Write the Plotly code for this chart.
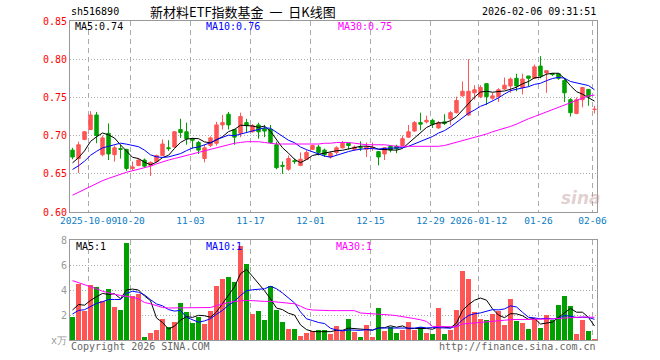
import plotly.graph_objects as go

# ---------------- data ----------------
tick_idx = [3, 10, 20, 30, 40, 50, 60, 68, 78, 87]
tick_text = ["2025-10-09", "10-20", "11-03", "11-17", "12-01", "12-15",
             "12-29", "2026-01-12", "01-26", "02-06"]

opens = [0.681, 0.670, 0.695, 0.708, 0.727, 0.675, 0.703, 0.675, 0.683, 0.682,
         0.657, 0.661, 0.668, 0.661, 0.666, 0.674, 0.684, 0.685, 0.708, 0.705,
         0.696, 0.691, 0.670, 0.687, 0.690, 0.714, 0.728, 0.708, 0.703, 0.717,
         0.705, 0.714, 0.709, 0.708, 0.688, 0.661, 0.656, 0.667, 0.661, 0.669,
         0.682, 0.685, 0.681, 0.672, 0.678, 0.684, 0.690, 0.682, 0.6845, 0.682,
         0.684, 0.679, 0.676, 0.686, 0.686, 0.687, 0.698, 0.706, 0.717, 0.718,
         0.720, 0.710, 0.718, 0.722, 0.730, 0.752, 0.727, 0.756, 0.751, 0.768,
         0.749, 0.751, 0.761, 0.765, 0.775, 0.763, 0.778, 0.775, 0.791, 0.782,
         0.781, 0.781, 0.772, 0.747, 0.729, 0.747, 0.7605, 0.734]
highs = [0.684, 0.692, 0.706, 0.732, 0.731, 0.700, 0.716, 0.687, 0.688, 0.682,
         0.666, 0.670, 0.670, 0.666, 0.675, 0.695, 0.694, 0.706, 0.722, 0.717,
         0.697, 0.693, 0.688, 0.699, 0.718, 0.727, 0.731, 0.709, 0.730, 0.722,
         0.715, 0.717, 0.714, 0.714, 0.692, 0.666, 0.674, 0.670, 0.678, 0.681,
         0.688, 0.688, 0.683, 0.679, 0.686, 0.693, 0.690, 0.687, 0.6925, 0.691,
         0.691, 0.680, 0.685, 0.687, 0.688, 0.700, 0.714, 0.719, 0.730, 0.726,
         0.722, 0.719, 0.728, 0.732, 0.751, 0.771, 0.800, 0.766, 0.766, 0.768,
         0.756, 0.762, 0.776, 0.776, 0.781, 0.781, 0.778, 0.793, 0.804, 0.785,
         0.782, 0.781, 0.775, 0.749, 0.750, 0.763, 0.7605, 0.739]
lows = [0.669, 0.651, 0.694, 0.707, 0.690, 0.673, 0.668, 0.666, 0.670, 0.654,
        0.654, 0.660, 0.658, 0.647, 0.665, 0.673, 0.680, 0.684, 0.697, 0.688,
        0.683, 0.676, 0.665, 0.685, 0.687, 0.708, 0.708, 0.688, 0.698, 0.704,
        0.704, 0.696, 0.698, 0.690, 0.656, 0.650, 0.654, 0.663, 0.660, 0.668,
        0.681, 0.674, 0.672, 0.670, 0.675, 0.683, 0.682, 0.680, 0.680, 0.672,
        0.680, 0.661, 0.668, 0.678, 0.677, 0.686, 0.697, 0.705, 0.707, 0.716,
        0.710, 0.709, 0.714, 0.714, 0.729, 0.751, 0.726, 0.747, 0.749, 0.740,
        0.747, 0.744, 0.760, 0.756, 0.758, 0.754, 0.764, 0.774, 0.775, 0.756,
        0.778, 0.773, 0.744, 0.725, 0.728, 0.737, 0.739, 0.729]
closes = [0.672, 0.688, 0.705, 0.727, 0.700, 0.697, 0.676, 0.684, 0.682, 0.657,
          0.659, 0.668, 0.660, 0.665, 0.674, 0.689, 0.683, 0.705, 0.704, 0.696,
          0.694, 0.681, 0.684, 0.697, 0.714, 0.717, 0.714, 0.698, 0.725, 0.713,
          0.713, 0.705, 0.706, 0.691, 0.658, 0.660, 0.670, 0.666, 0.669, 0.678,
          0.687, 0.678, 0.675, 0.677, 0.684, 0.690, 0.687, 0.685, 0.684, 0.685,
          0.6845, 0.672, 0.684, 0.681, 0.683, 0.696, 0.705, 0.717, 0.715, 0.720,
          0.715, 0.717, 0.716, 0.730, 0.746, 0.758, 0.758, 0.760, 0.763, 0.751,
          0.752, 0.760, 0.766, 0.774, 0.765, 0.774, 0.775, 0.790, 0.778, 0.785,
          0.780, 0.775, 0.756, 0.730, 0.747, 0.763, 0.751, 0.7345]
# closes before the first visible day (only feed the moving averages)
prior_closes = [0.640, 0.645, 0.650, 0.648, 0.652, 0.655, 0.660, 0.665, 0.670]

ma30_price = [0.622, 0.626, 0.630, 0.634, 0.638, 0.641, 0.644, 0.647, 0.650, 0.652,
              0.654, 0.656, 0.658, 0.660, 0.663, 0.666, 0.668, 0.670, 0.672, 0.674,
              0.676, 0.678, 0.680, 0.682, 0.684, 0.686, 0.688, 0.690, 0.691, 0.692,
              0.692, 0.692, 0.691, 0.690, 0.689, 0.689, 0.689, 0.689, 0.689, 0.689,
              0.689, 0.689, 0.690, 0.690, 0.691, 0.691, 0.691, 0.690, 0.689, 0.688,
              0.688, 0.688, 0.688, 0.687, 0.686, 0.686, 0.686, 0.686, 0.686, 0.686,
              0.686, 0.686, 0.687, 0.689, 0.692, 0.694, 0.696, 0.698, 0.700, 0.702,
              0.705, 0.707, 0.709, 0.712, 0.715, 0.719, 0.722, 0.725, 0.728, 0.731,
              0.734, 0.737, 0.740, 0.744, 0.747, 0.750, 0.752, 0.753]

volumes = [1.84, 4.48, 2.35, 4.40, 4.24, 3.15, 4.08, 2.64, 2.40, 7.76,
           3.49, 3.70, 0.24, 0.56, 0.83, 1.68, 1.04, 1.44, 2.96, 2.24,
           1.36, 1.87, 1.28, 2.35, 4.35, 4.88, 5.04, 4.67, 7.55, 6.10,
           2.08, 2.35, 1.63, 4.29, 2.43, 1.44, 0.91, 0.91, 0.35, 0.56,
           0.69, 0.80, 0.80, 0.50, 1.09, 0.69, 1.68, 0.64, 0.24, 1.17,
           0.24, 2.56, 0.72, 1.01, 0.56, 0.80, 1.44, 0.80, 1.01, 0.56,
           0.48, 2.56, 0.48, 0.80, 2.43, 5.55, 4.88, 2.24, 1.68, 1.60,
           2.08, 2.35, 1.23, 3.28, 1.52, 1.33, 0.88, 1.68, 0.99, 2.00,
           1.60, 2.80, 3.52, 2.72, 0.48, 1.60, 0.72, 0.08]
prior_volumes = [1.6, 1.8, 1.7, 1.9, 1.8, 2.3, 2.6, 2.5, 2.76]

ma30_volume = [4.75, 4.60, 4.45, 4.30, 4.10, 3.90, 3.75, 3.65, 3.57, 3.50,
               3.41, 3.30, 3.00, 2.90, 2.75, 2.60, 2.56, 2.56, 2.56, 2.56,
               2.56, 2.56, 2.56, 2.60, 2.75, 2.90, 3.00, 3.09, 3.15, 3.17,
               3.15, 3.09, 3.09, 3.09, 3.05, 3.00, 2.96, 2.90, 2.70, 2.48,
               2.40, 2.37, 2.35, 2.35, 2.35, 2.35, 2.35, 2.35, 2.16, 2.14,
               2.12, 2.10, 2.08, 2.00, 1.95, 1.89, 1.80, 1.71, 1.62, 1.49,
               1.09, 1.09, 1.09, 1.09, 1.05, 1.28, 1.32, 1.36, 1.38, 1.40,
               1.44, 1.50, 1.58, 1.63, 1.63, 1.63, 1.63, 1.65, 1.66, 1.68,
               1.70, 1.74, 1.76, 1.80, 1.82, 1.84, 1.83, 1.81]

# ---------------- helpers ----------------
def sma(vals, prior, n):
    seq = prior + vals
    off = len(prior)
    return [sum(seq[off + k - n + 1: off + k + 1]) / n for k in range(len(vals))]

idx = list(range(len(closes)))
ma5_p = sma(closes, prior_closes, 5)
ma10_p = sma(closes, prior_closes, 10)
ma5_v = sma(volumes, prior_volumes, 5)
ma10_v = sma(volumes, prior_volumes, 10)

RED = "#ff5555"
GREEN = "#00a000"
GRID = "#aaaaaa"
FRAME = "#999999"
MONO = "DejaVu Sans Mono"

W, H = 660, 360
PL, PR, PT, PB = 70, 597, 21, 340


def px(x):
    return (x - PL) / (PR - PL)


def py(y):
    return (PB - y) / (PB - PT)


fig = go.Figure()

fig.add_trace(go.Candlestick(
    x=idx, open=opens, high=highs, low=lows, close=closes,
    increasing=dict(line=dict(color=RED, width=1), fillcolor=RED),
    decreasing=dict(line=dict(color=GREEN, width=1), fillcolor=GREEN),
    whiskerwidth=0, xaxis="x", yaxis="y", hoverinfo="skip", showlegend=False))

for ys, col in [(ma5_p, "#000000"), (ma10_p, "#0000ff"), (ma30_price, "#ff00ff")]:
    fig.add_trace(go.Scatter(x=idx, y=ys, mode="lines", line=dict(color=col, width=1),
                             xaxis="x", yaxis="y", hoverinfo="skip", showlegend=False))

vol_colors = [RED if c >= o else GREEN for o, c in zip(opens, closes)]
fig.add_trace(go.Bar(x=idx, y=volumes, width=0.82, marker=dict(color=vol_colors, line=dict(width=0)),
                     xaxis="x2", yaxis="y2", hoverinfo="skip", showlegend=False))
for ys, col in [(ma5_v, "#000000"), (ma10_v, "#0000ff"), (ma30_volume, "#ff00ff")]:
    fig.add_trace(go.Scatter(x=idx, y=ys, mode="lines", line=dict(color=col, width=1),
                             xaxis="x2", yaxis="y2", hoverinfo="skip", showlegend=False))

grid_x = [t - 0.33 for t in tick_idx]
xr = [-0.42, 87.42]

main_bottom = py(212)
vol_top = py(240)

common = dict(showline=True, mirror=True, linecolor=FRAME, linewidth=1, ticks="",
              zeroline=False, fixedrange=True, automargin=False, showgrid=True,
              gridcolor=GRID, gridwidth=1)

fig.update_layout(
    width=W, height=H,
    margin=dict(l=PL, r=W - PR, t=PT, b=H - PB, pad=0, autoexpand=False),
    paper_bgcolor="white", plot_bgcolor="white",
    font=dict(family=MONO, size=10, color="#000"),
    boxgap=0.18,
    bargap=0,
    showlegend=False,
    xaxis=dict(domain=[0, 1], anchor="y", range=xr, tickmode="array", tickvals=grid_x,
               ticktext=tick_text, tickangle=0,
               tickfont=dict(color="#0a7cc4", size=9.5, family=MONO),
               griddash="5px,4px", rangeslider=dict(visible=False), **common),
    yaxis=dict(domain=[main_bottom, 1], anchor="x", range=[0.60, 0.85], tickmode="array",
               tickvals=[0.60, 0.65, 0.70, 0.75, 0.80, 0.85],
               ticktext=["0.60", "0.65", "0.70", "0.75", "0.80", "0.85"],
               tickfont=dict(color="#ff0000", size=10, family=MONO),
               griddash="1px,2px", **common),
    xaxis2=dict(domain=[0, 1], anchor="y2", range=xr, matches="x", tickmode="array",
                tickvals=grid_x, showticklabels=False, griddash="5px,4px", **common),
    yaxis2=dict(domain=[0, vol_top], anchor="x2", range=[0, 8], tickmode="array",
                tickvals=[0, 2, 4, 6, 8], ticktext=["x万", "2", "4", "6", "8"],
                tickfont=dict(color="#999999", size=10, family=MONO),
                griddash="1px,2px", **common),
)


def note(text, x, y, anchor="left", color="#000", size=10, family=MONO, **kw):
    fig.add_annotation(text=text, x=px(x), y=py(y), xref="paper", yref="paper",
                       xanchor=anchor, yanchor="middle", showarrow=False,
                       font=dict(color=color, size=size, family=family), **kw)


note("sh516890", 69, 12)
note("新材料ETF指数基金\u00a0\u00a0一\u00a0\u00a0日K线图", 243, 12, anchor="center", size=13,
     family="Noto Sans CJK SC")
note("2026-02-06 09:31:51", 598, 12, anchor="right")

note("MA5:0.74", 73, 27)
note("MA10:0.76", 204, 27, color="#0000ff")
note("MA30:0.75", 336, 27, color="#ff00ff")

note("MA5:1", 74, 247)
note("MA10:1", 204, 247, color="#0000ff")
note("MA30:1", 334, 247, color="#ff00ff")

note("Copyright 2026 SINA.COM", 69, 346, color="#666666")
note("http://finance.sina.com.cn", 598, 346, anchor="right", color="#666666")

note("<b><i>sina</i></b>", 581, 198, anchor="center", color="rgba(190,150,150,0.45)",
     size=17, family="DejaVu Sans")

fig.write_html("out.html",
               config={"displayModeBar": False, "staticPlot": True},
               post_script="document.body.style.margin='0px';document.body.style.overflow='hidden';")
